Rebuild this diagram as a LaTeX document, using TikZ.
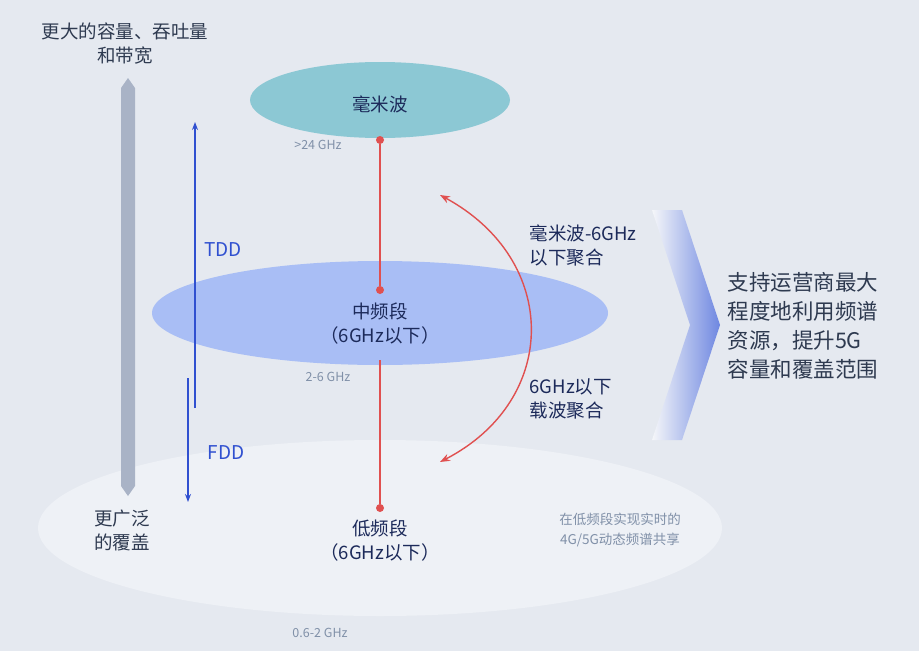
\documentclass[tikz,border=0pt]{standalone}
\usepackage{fontspec}
\setmainfont{Noto Sans CJK SC}
\usetikzlibrary{arrows.meta,shadings}
\definecolor{bg}{HTML}{E5E9F0}
\definecolor{graybar}{HTML}{A9B3C6}
\definecolor{dk}{HTML}{2E3A50}
\definecolor{navy}{HTML}{1C2A5A}
\definecolor{bl}{HTML}{3050D0}
\definecolor{rd}{HTML}{E05050}
\definecolor{sm}{HTML}{8090A8}
\definecolor{midc}{HTML}{A9BEF5}
\definecolor{topc}{HTML}{8CC8D4}
\definecolor{lowc}{HTML}{EEF1F6}
\definecolor{chev}{HTML}{6E87E1}
\tikzset{lbl/.style={font=\fontsize{18.5}{24}\selectfont,text=navy,align=center},
 sml/.style={font=\fontsize{12.5}{15}\selectfont,text=sm},
 dot/.style={circle,fill=rd,inner sep=0pt,minimum size=8pt},
 rl/.style={draw=rd,line width=1.4pt}}
\begin{document}
\begin{tikzpicture}[x=1pt,y=-1pt]
\fill[bg] (0,0) rectangle (919,651);
\useasboundingbox (0,0) rectangle (919,651);
% ellipses
\fill[lowc] (380,528) ellipse (342 and 88);
\fill[midc] (380,313) ellipse (228 and 52);
\fill[topc] (380,100) ellipse (130 and 38);
% gray bar
\fill[graybar] (121,88) -- (128,78) -- (135,88) -- (135,486) -- (128,496) -- (121,486) -- cycle;
\node[lbl,text=dk] (top) at (125,44) {更大的容量、吞吐量\\和带宽};
\node[lbl,text=dk] (cov) at (122,530) {更广泛\\的覆盖};
% blue arrows
\coordinate (t0) at (195,408); \coordinate (t1) at (195,122);
\coordinate (f0) at (188,378); \coordinate (f1) at (188,502);
\draw[bl,line width=1.4pt,-{Stealth[length=8pt]}] (t0) -- (t1);
\draw[bl,line width=1.4pt,-{Stealth[length=8pt]}] (f0) -- (f1);
\node[font=\fontsize{19}{22}\selectfont,text=bl] (tdd) at (223,250) {TDD};
\node[font=\fontsize{19}{22}\selectfont,text=bl] (fdd) at (226,453) {FDD};
% labels
\node[lbl] (mm) at (380,104) {毫米波};
\node[sml] (g24) at (318,145) {>24 GHz};
\node[lbl] (mid) at (380,324) {中频段\\（6GHz以下）};
\node[sml] (g26) at (328,377) {2-6 GHz};
\node[lbl] (low) at (380,541) {低频段\\（6GHz以下）};
\node[sml] (g06) at (320,633) {0.6-2 GHz};
\node[font=\fontsize{13.5}{20}\selectfont,text=sm,align=center] (dss) at (620,530) {在低频段实现实时的\\4G/5G动态频谱共享};
% red lines
\node[dot] (d1) at (380,140) {};
\node[dot] (d2) at (380,290) {};
\node[dot] (d3) at (380,508) {};
\coordinate (m0) at (380,360);
\draw[rl] (d1) -- (d2);
\draw[rl] (m0) -- (d3);
\coordinate (a1) at (440,195); \coordinate (a2) at (440,462);
\draw[rl,{Stealth[length=10pt]}-{Stealth[length=10pt]}] (a1) .. controls (560,260) and (560,400) .. (a2);
\node[lbl,align=left,anchor=west] (agg1) at (526,245) {毫米波-6GHz\\以下聚合};
\node[lbl,align=left,anchor=west] (agg2) at (526,399) {6GHz以下\\载波聚合};
% chevron
\shade[left color=bg!40!white,right color=chev] (652,210) -- (682,210) -- (720,325) -- (682,440) -- (652,440) -- (690,325) -- cycle;
\node[font=\fontsize{21.5}{29}\selectfont,text=dk,align=left,anchor=west] (res) at (724,326) {支持运营商最大\\程度地利用频谱\\资源，提升5G\\容量和覆盖范围};
\end{tikzpicture}
\end{document}
